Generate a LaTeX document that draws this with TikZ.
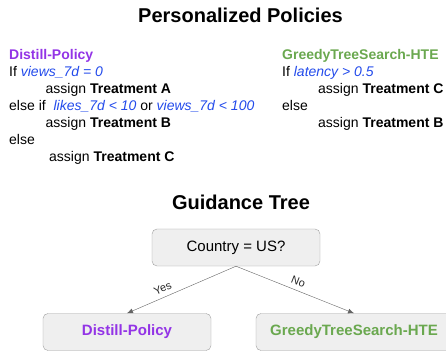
\documentclass[tikz,border=0pt]{standalone}
\usepackage{fontspec}
\setmainfont{Liberation Sans}
\usetikzlibrary{arrows.meta, positioning}
\definecolor{distc}{RGB}{147,52,230}
\definecolor{greedyc}{RGB}{106,168,79}
\definecolor{condc}{RGB}{35,75,235}
\definecolor{boxc}{RGB}{239,239,239}
\definecolor{edgec}{RGB}{100,100,100}
\newcommand{\cond}[1]{\textcolor{condc}{\textit{#1}}}

\begin{document}
\begin{tikzpicture}[x=1pt,y=-1pt,
		line/.style={font=\fontsize{14}{17}\selectfont, anchor=base west, inner sep=0pt},
		head/.style={font=\fontsize{20}{24}\selectfont\bfseries, anchor=base, inner sep=0pt},
		treebox/.style={draw=gray!75, fill=boxc, rounded corners=5pt, minimum height=37pt, font=\fontsize{15}{18}\selectfont\bfseries},
		edge/.style={draw=edgec, -{Latex[length=6pt,width=5pt]}},
		edgelab/.style={font=\fontsize{11}{13}\selectfont, text=black!85, sloped, above, inner sep=1pt, yshift=4pt}]
			\useasboundingbox (0,0) rectangle (446,352);
			\clip (0,0) rectangle (446,352);
			% titles
			\node[head] (ptitle) at (240.5,23) {Personalized Policies};
			\node[head] (gtitle) at (241,210) {Guidance Tree};
			% left policy
			\node[line, distc, font=\fontsize{14}{17}\selectfont\bfseries] (dname) at (9,60) {Distill-Policy};
			\node[line] (d1) at (9,77) {If \cond{views\_7d = 0}};
			\node[line] (d2) at (45.5,94) {assign \textbf{Treatment A}};
			\node[line] (d3) at (9,111) {else if\ \ \cond{likes\_7d < 10} or \cond{views\_7d < 100}};
			\node[line] (d4) at (45.5,128) {assign \textbf{Treatment B}};
			\node[line] (d5) at (9,145) {else};
			\node[line] (d6) at (49,162) {assign \textbf{Treatment C}};
			% right policy
			\node[line, greedyc, font=\fontsize{14}{17}\selectfont\bfseries] (gname) at (282,60) {GreedyTreeSearch-HTE};
			\node[line] (g1) at (282,77) {If \cond{latency > 0.5}};
			\node[line] (g2) at (318,94) {assign \textbf{Treatment C}};
			\node[line] (g3) at (282,111) {else};
			\node[line] (g4) at (318,128) {assign \textbf{Treatment B}};
			% tree
			\node[treebox, minimum width=168pt, font=\fontsize{15}{18}\selectfont] (root) at (236,247.5) {Country = US?};
			\node[treebox, minimum width=168pt, text=distc] (distill) at (127,332) {Distill-Policy};
			\node[treebox, minimum width=196pt, text=greedyc] (greedy) at (354,332) {GreedyTreeSearch-HTE};
			\draw[edge] (root.south) -- node[edgelab, pos=0.64] {Yes} (distill.north);
			\draw[edge] (root.south) -- node[edgelab, pos=0.5] {No} (greedy.north);
		\end{tikzpicture}
\end{document}
